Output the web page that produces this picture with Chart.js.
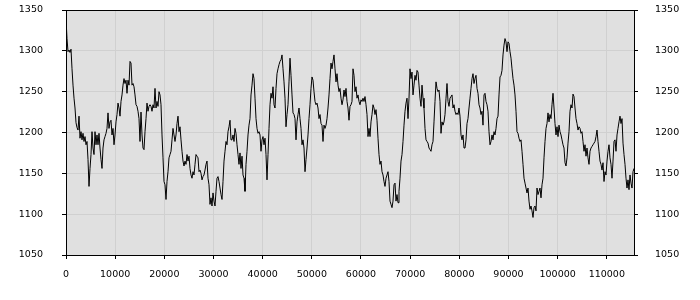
<!DOCTYPE html>
<html>
<head>
<meta charset="utf-8">
<script src="https://cdn.jsdelivr.net/npm/chart.js@4/dist/chart.umd.min.js"></script>
<style>
  html,body{margin:0;padding:0;background:#fff;}
  #wrap{width:700px;height:300px;}
</style>
</head>
<body>
<div id="wrap"><canvas id="chart" width="700" height="300"></canvas></div>
<script>
// ===================== Daten =====================
// x-Abstand zwischen zwei Messpunkten (ca. 1 Pixel im Original)
const xStep = 203.4;

const seg1 = [1339,1315,1299,1301,1298,1302,1278,1258,1242,1230,1212,1206,1203,1220,1193,1201,1191,1199,1189,1195,
  1185,1189,1167,1134,1156,1173,1201,1181,1173,1201,1185,1197,1185,1199,1181,1167,1156,1181,1191,1195,
  1199,1205,1224,1205,1213,1215,1197,1205,1185,1197,1213,1222,1236,1230,1220,1238,1246,1258,1266,1260,
  1264,1248,1264,1258,1287,1285,1258,1260,1256,1246,1234,1232,1226,1217,1189,1225,1197,1181,1179,1201,
  1217,1236,1226,1232,1234,1232,1226,1234,1230,1254,1230,1238];

const seg2 = [1232,1250,1246,1234,1197,1169,1140,1136,1118,1140,1152,1169,1173,1177,1191,1205,1197,1189,1197,1211,
  1220,1201,1207,1191,1177,1165,1159,1165,1161,1173,1165,1171,1156,1148,1144,1152,1148,1161,1173,1171,
  1169,1152,1154,1150,1142,1146,1148,1154,1161,1165,1144,1136,1112,1120,1110,1126,1116,1110,1128,1144,
  1146,1140,1132,1124,1118,1140,1165,1177,1189,1185,1201,1207,1215,1191,1191,1197,1189,1205,1199,1185,
  1173,1161,1175,1156,1171,1148,1144,1128,1161,1177,1197,1209,1217,1246,1258,1272,1266];

const seg3 = [1242,1217,1205,1199,1201,1197,1177,1191,1195,1185,1193,1173,1142,1173,1205,1234,1248,1242,1256,1234,
  1230,1254,1272,1278,1283,1287,1289,1295,1278,1262,1242,1207,1222,1234,1262,1291,1270,1246,1224,1222,
  1217,1191,1213,1222,1230,1217,1205,1185,1191,1181,1152,1167,1181,1197,1217,1234,1254,1268,1264,1250,
  1238,1234,1236,1230,1217,1222,1211,1209,1189,1209,1205,1209,1217,1230,1246,1266,1285,1278,1287,1295,
  1278,1262,1272,1258,1250,1254,1242,1234,1240,1252,1244,1254,1238,1230,1215,1232];

const seg4 = [1234,1238,1278,1270,1250,1256,1242,1246,1238,1234,1240,1238,1242,1238,1244,1234,1222,1195,1205,1195,
  1213,1222,1234,1230,1222,1228,1215,1193,1173,1161,1165,1152,1148,1140,1134,1144,1148,1152,1140,1116,
  1112,1108,1116,1136,1138,1116,1124,1114,1128,1144,1165,1173,1189,1209,1226,1236,1242,1217,1242,1278,
  1266,1274,1246,1258,1270,1264,1276,1274,1258,1242,1232,1258,1242,1230,1205,1191,1189,1187,1181,1179,
  1177,1185,1189,1213,1238,1262,1254,1250,1252,1238,1199,1213,1209,1213,1222,1242];

const seg5 = [1260,1238,1232,1242,1244,1246,1230,1234,1226,1222,1224,1222,1230,1220,1197,1191,1197,1181,1181,1191,
  1211,1217,1230,1242,1254,1266,1272,1260,1266,1270,1254,1248,1234,1230,1222,1226,1209,1246,1248,1238,
  1234,1226,1201,1185,1189,1197,1191,1201,1197,1205,1217,1220,1246,1268,1270,1276,1295,1307,1315,1311,
  1299,1311,1309,1299,1291,1278,1266,1258,1246,1226,1201,1199,1193,1189,1191,1177,1161,1144,1138,1132,
  1126,1132,1116,1106,1110,1104,1096,1108,1110,1104,1132,1124,1128,1132,1120,1136];

const seg6 = [1144,1169,1189,1205,1211,1224,1213,1222,1217,1234,1248,1230,1211,1197,1207,1195,1209,1201,1197,1191,
  1185,1181,1163,1159,1169,1187,1201,1226,1234,1230,1247,1244,1230,1217,1211,1203,1207,1205,1199,1201,
  1189,1177,1185,1171,1181,1169,1161,1177,1181,1183,1185,1187,1189,1195,1203,1189,1177,1165,1161,1154,
  1163,1140,1152,1148,1165,1177,1185,1169,1161,1144,1165,1189,1191,1177,1197,1205,1213,1220,1211,1217,
  1187,1173,1161,1144,1132,1142,1130,1148,1138,1132,1152,1156];

const values = [...seg1, ...seg2, ...seg3, ...seg4, ...seg5, ...seg6];

const xTicks = [0,10000,20000,30000,40000,50000,60000,70000,80000,90000,100000,110000];
const yTicks = [1050,1100,1150,1200,1250,1300,1350];

// ===================== Chart =====================
const points = values.map((v,i)=>({x:i*xStep, y:v}));
const xMax = (values.length-1)*xStep;

const plotFrame = {
    id:'plotFrame',
    beforeDraw(chart){
        const {ctx, chartArea:a} = chart;
        ctx.save();
        ctx.fillStyle = '#e0e0e0';
        ctx.fillRect(a.left, a.top, a.right-a.left, a.bottom-a.top);
        ctx.restore();
    },
    afterDraw(chart){
        const {ctx, chartArea:a} = chart;
        ctx.save();
        ctx.strokeStyle = '#000';
        ctx.lineWidth = 1;
        ctx.strokeRect(Math.round(a.left)+0.5, Math.round(a.top)+0.5,
            Math.round(a.right-a.left), Math.round(a.bottom-a.top));
        ctx.restore();
    }
};

const tickFont = {family:'"DejaVu Sans", Verdana, sans-serif', size:9.5};

function yScale(pos, pad){
    return {
        type:'linear', position:pos, min:1050, max:1350,
        afterBuildTicks: s => { s.ticks = yTicks.map(v=>({value:v})); },
        afterFit: s => { s.width = 66; s.paddingTop = 0; s.paddingBottom = 0; },
        grid:{display:true, drawOnChartArea:pos==='left', color:'#d0d0d0', tickColor:'#000', tickLength:4},
        border:{display:false},
        ticks:{color:'#000', font:tickFont, padding:pad, callback:v=>String(v)}
    };
}

new Chart(document.getElementById('chart'),{
    type:'line',
    data:{
        datasets:[{
            data:points,
            borderColor:'#000',
            borderWidth:1,
            pointRadius:0,
            tension:0,
            fill:false
        }]
    },
    options:{
        responsive:false,
        animation:false,
        events:[],
        layout:{padding:{top:10, left:0, right:0, bottom:0}},
        plugins:{legend:{display:false}, tooltip:{enabled:false}},
        scales:{
            x:{
                type:'linear', min:0, max:xMax,
                afterBuildTicks: s => { s.ticks = xTicks.map(v=>({value:v})); },
                afterFit: s => { s.height = 45; s.paddingLeft = 0; s.paddingRight = 0; },
                grid:{color:'#d0d0d0', tickColor:'#000', tickLength:4},
                border:{display:false},
                ticks:{color:'#000', font:tickFont, padding:10, maxRotation:0, autoSkip:false, callback:v=>String(v)}
            },
            y:yScale('left', 19),
            y2:yScale('right', 17)
        }
    },
    plugins:[plotFrame]
});
</script>
</body>
</html>
